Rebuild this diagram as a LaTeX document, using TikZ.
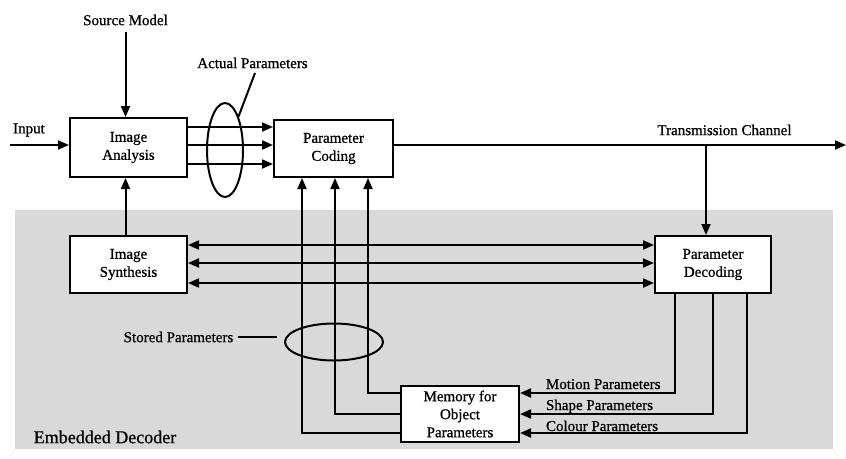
\documentclass[tikz,border=0pt]{standalone}
\usepackage{fontspec}
\setmainfont{Liberation Serif}[FakeBold=0.8]
\usetikzlibrary{arrows.meta,shapes.geometric,calc}
\begin{document}
\begin{tikzpicture}[x=1pt,y=-1pt,
  font=\fontsize{15}{18}\selectfont,
  line width=2pt,
  block/.style={draw, fill=white, align=center, minimum width=116pt, minimum height=57pt, inner sep=0pt},
  arr/.style={-{Triangle[length=11pt,width=9pt]}},
  darr/.style={{Triangle[length=11pt,width=9pt]}-{Triangle[length=11pt,width=9pt]}},
  lbl/.style={inner sep=0pt},
  ring/.style={draw, ellipse, inner sep=0pt}]
\useasboundingbox (0,0) rectangle (846,458);
% embedded decoder area
\fill[black!15] (15,210) rectangle (833,449);

% processing blocks
\node[block, minimum width=117pt, minimum height=59pt] (ia) at (128.5,147.5) {Image\\Analysis};
\node[block, minimum width=117pt] (is) at (128.5,264.5) {Image\\Synthesis};
\node[block, minimum width=119pt] (pc) at (333.5,148.5) {Parameter\\Coding};
\node[block] (pd) at (713,264.5) {Parameter\\Decoding};
\node[block, minimum width=118pt, minimum height=56pt] (mem) at (460,414) {Memory for\\Object\\Parameters};

% labels
\node[lbl] (sm) at (125.5,20) {Source Model};
\node[lbl] (in) at (29,130) {Input};
\node[lbl] (apl) at (252.5,63) {Actual Parameters};
\node[lbl] (tc) at (724.5,130) {Transmission Channel};
\node[lbl] (spl) at (178.5,337) {Stored Parameters};
\node[lbl, font=\fontsize{18}{21}\selectfont] (ed) at (105,437) {Embedded Decoder};
\node[lbl, anchor=base west] (mp) at (545,389) {Motion Parameters};
\node[lbl, anchor=base west] (shp) at (545,410) {Shape Parameters};
\node[lbl, anchor=base west] (cp) at (545,431) {Colour Parameters};

% grouping ellipses
\node[ring, minimum width=36pt, minimum height=94pt] (ap) at (225,150) {};
\node[ring, minimum width=98pt, minimum height=37pt] (sp) at (334,342) {};

% free ends
\coordinate (inS) at (10,145);
\coordinate (chEnd) at (846,145);
\coordinate (tap) at (706,145);
\coordinate (apTip) at (255,73);

% encoder paths
\draw[arr] (inS) -- (ia.west |- inS);
\draw[arr] ([yshift=-6pt]sm.south) -- (sm |- ia.north);
\draw[arr] (is.north -| sm) -- (ia.south -| sm);
\foreach \y in {127,145,164}
  \draw[arr] (ia.east |- 0,\y) -- (pc.west |- 0,\y);
\draw[arr] (pc.east |- chEnd) -- (chEnd);
\draw[arr] (tap) -- (tap |- pd.north);

% decoder paths
\foreach \y in {245,263,283}
  \draw[darr] (is.east |- 0,\y) -- (pd.west |- 0,\y);
\foreach \x/\y in {368/393, 335/414, 302/433}
  \draw[arr] (mem.west |- 0,\y) -| (pc.south -| \x,0);
\foreach \x/\y in {675/393, 713/414, 747/433}
  \draw[arr] (pd.south -| \x,0) |- (mem.east |- 0,\y);

% pointers to the ellipses
\draw (ap.68) -- (apTip);
\draw ([xshift=4pt]spl.east) -- ([xshift=-7pt]sp.west |- spl.east);
\end{tikzpicture}
\end{document}
